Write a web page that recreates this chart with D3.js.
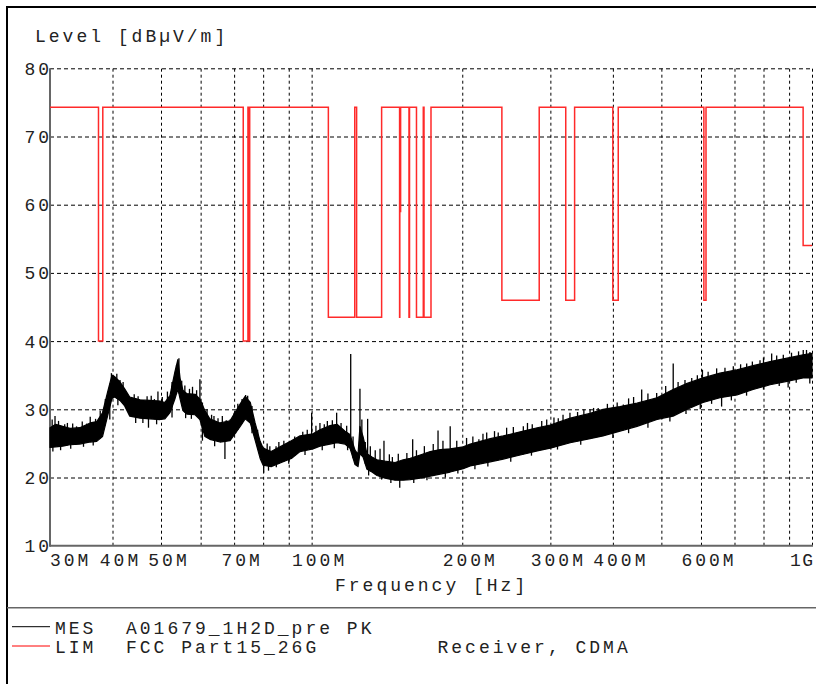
<!DOCTYPE html>
<html><head><meta charset="utf-8">
<script src="https://cdn.jsdelivr.net/npm/d3@7"></script>
<style>
body{margin:0;background:#fff}
text{font-family:"Liberation Mono","Courier New",monospace;font-size:18px;letter-spacing:3px;fill:#222}
</style>
</head><body>
<svg id="c" width="816" height="684"></svg>
<script>
// ---- data ----
const xTickValues = [30, 40, 50, 70, 100, 200, 300, 400, 600, 1000];
const xTickLabels = ["30M", "40M", "50M", "70M", "100M", "200M", "300M", "400M", "600M", "1G"];
const xGridValues = [40, 50, 60, 70, 80, 90, 100, 200, 300, 400, 500, 600, 700, 800, 900, 1000];
const yTickValues = [10, 20, 30, 40, 50, 60, 70, 80];

// limit (LIM): step levels, value holds from freq until next freq (MHz, dBµV/m)
const limitFreq  = [30, 37.5, 38.25, 73, 74.6, 74.8, 75.2, 108, 121.94, 123, 138, 149.9, 150.05, 150.6,
                    156.52475, 156.52525, 156.7, 156.9, 162.0125, 167.17, 167.72, 173.2, 240, 285,
                    322, 335.4, 399.9, 410, 608, 614, 960, 1000];
const limitLevel = [74.3, 40, 74.3, 40, 74.3, 40, 74.3, 43.5, 74.3, 43.5, 74.3, 43.5, 59, 74.3,
                    43.5, 74.3, 43.5, 74.3, 43.5, 74.3, 43.5, 74.3, 46, 74.3,
                    46, 74.3, 46, 74.3, 46, 74.3, 54, 54];

// measurement (MES) peak trace envelope: frequency (MHz), lower and upper level (dBµV/m)
const mesFreq = [30, 30.8, 31.8, 32.9, 34.4, 36.1, 37.2, 38.2, 39.1, 39.9, 40.4, 41.4, 42.3, 43.3, 45.4, 47.5,
                 49.8, 50.9, 52.1, 53.3, 54.05, 54.6, 55.3, 56.3, 58.5, 59.8, 61.2, 62.6, 65.6, 68.7, 72.0,
                 73.65, 75.4, 77.1, 78.9, 80.0, 83.0, 87.0, 91.1, 94.8, 100.6, 103.9, 108.8, 112.4, 116.6,
                 119.3, 122.1, 123.8, 124.9, 126.7, 129.0, 132.0, 135.1, 140.2, 146.8, 152.4, 157.4, 164.8,
                 172.6, 180.7, 189.2, 200.9, 207.5, 217.3, 227.5, 241.5, 261.2, 282.5, 299.8, 328.7, 360.1,
                 382.3, 413.4, 447.1, 490.0, 527.7, 563.0, 605.6, 654.6, 708.0, 762.4, 824.5, 891.5, 959.8, 1000];
const mesLow  = [24.4, 24.5, 24.6, 24.8, 24.9, 25.2, 25.3, 26.0, 29.0, 31.6, 31.8, 31.3, 30.5, 29.0, 28.7, 28.6,
                 28.5, 28.6, 29.5, 31.5, 33.0, 31.5, 29.8, 29.3, 29.2, 28.5, 26.0, 25.6, 25.2, 25.4, 27.5,
                 28.6, 28.0, 25.5, 22.8, 21.8, 21.6, 22.2, 22.8, 23.8, 24.2, 24.6, 24.9, 25.1, 24.9,
                 24.3, 21.9, 21.6, 23.5, 23.0, 21.2, 20.8, 20.3, 19.9, 19.6, 19.6, 19.7, 19.9,
                 20.2, 20.5, 20.8, 21.3, 21.7, 22.0, 22.3, 22.7, 23.3, 23.9, 24.3, 25.1, 25.7,
                 26.1, 26.8, 27.5, 28.5, 29.0, 30.0, 31.0, 31.7, 32.1, 32.9, 33.6, 34.1, 34.6, 34.6];
const mesHigh = [27.3, 27.8, 27.5, 27.2, 27.3, 28.0, 28.2, 29.5, 32.5, 35.0, 34.8, 34.0, 33.0, 31.8, 31.4, 31.3,
                 31.2, 31.0, 32.0, 35.5, 37.3, 34.5, 32.8, 32.3, 32.2, 31.5, 29.8, 28.6, 28.0, 28.3, 30.8,
                 31.9, 31.0, 28.0, 25.3, 24.3, 23.8, 24.6, 25.4, 26.1, 26.4, 27.0, 27.6, 27.8, 26.8,
                 26.3, 24.0, 23.4, 27.5, 26.0, 23.5, 23.0, 22.6, 22.4, 22.2, 22.6, 22.8, 23.3,
                 23.8, 24.1, 24.2, 24.5, 24.9, 25.3, 25.7, 26.1, 26.7, 27.3, 27.7, 28.7, 29.4,
                 30.0, 30.4, 30.9, 31.7, 32.9, 33.8, 34.6, 35.3, 35.8, 36.4, 37.0, 37.5, 38.0, 38.2];
// isolated peaks above the band (MHz, dBµV/m)
const spikeFreq  = [30.7, 32.1, 33.9, 36.1, 39.8, 41.4, 43.3, 46.9, 49.3, 54.3, 59.8, 63.1, 68.7, 73.8, 84.9,
                    89.9, 100.0, 103.9, 112.2, 119.7, 124.9, 129.4, 139.5, 159.2, 178.9, 189.2, 215.9,
                    223.8, 245.3, 264.9, 288.3, 311.1, 328.3, 360.1, 373.8, 400.7, 419.7, 456.7, 489.3,
                    528.0, 557.4, 604.0, 644.8, 696.2, 740.4, 787.2, 830.6, 876.3, 960.5, 990.6,
                    30.3, 31.2, 32.5, 33.3, 34.8, 35.5, 37.0, 37.8, 38.7, 40.1, 40.8, 42.0, 44.2, 45.0,
                    47.8, 48.5, 50.3, 51.5, 52.6, 53.7, 55.0, 55.8, 57.0, 57.8, 58.9, 60.5, 61.8, 63.8,
                    65.0, 66.3, 67.5, 70.0, 71.2, 72.6, 74.5, 76.0, 78.0, 81.5, 82.5, 86.0, 88.0, 92.5,
                    96.0, 98.0, 102.0, 106.0, 107.5, 110.0, 114.5, 117.5, 121.0, 126.0, 128.0, 131.0,
                    134.0, 137.0, 143.0, 145.0, 149.0, 155.0, 162.0, 168.0, 175.0, 183.0, 195.0, 204.0,
                    210.0, 220.0, 232.0, 236.0, 253.0, 270.0, 276.0, 295.0, 305.0, 318.0, 340.0, 350.0,
                    366.0, 390.0, 408.0, 430.0, 440.0, 470.0, 510.0, 540.0, 575.0, 590.0, 620.0, 670.0,
                    720.0, 760.0, 800.0, 850.0, 910.0, 940.0, 975.0];
const spikeLevel = [29.0, 27.8, 27.5, 28.9, 35.3, 34.3, 31.6, 31.9, 32.6, 37.5, 34.4, 29.2, 28.5, 32.1, 24.6,
                    25.1, 29.5, 28.0, 29.5, 38.1, 33.0, 28.6, 25.4, 25.6, 26.9, 27.5, 25.6,
                    26.6, 27.3, 27.5, 28.3, 28.7, 29.5, 30.0, 30.2, 30.2, 30.7, 32.9, 32.4,
                    36.7, 34.3, 35.8, 36.0, 36.3, 36.7, 37.2, 38.2, 38.0, 38.7, 38.4,
                    28.5, 28.3, 28.0, 27.9, 28.2, 27.9, 28.6, 29.8, 31.5, 35.0, 35.2, 34.0, 32.2, 31.9,
                    32.0, 31.5, 31.8, 32.6, 34.0, 36.5, 34.2, 33.5, 33.0, 33.3, 32.8, 31.0, 30.0, 29.0,
                    28.7, 29.0, 28.4, 29.5, 30.8, 31.5, 32.0, 30.5, 27.0, 25.0, 24.6, 25.2, 25.4, 26.0,
                    26.7, 27.0, 27.6, 27.8, 28.3, 28.4, 28.0, 27.6, 26.0, 28.5, 25.2, 24.6,
                    24.0, 24.2, 23.4, 23.0, 23.5, 23.6, 24.0, 24.6, 24.9, 25.4, 25.4, 25.8,
                    26.0, 26.4, 26.8, 26.6, 27.4, 28.0, 27.8, 28.5, 28.8, 29.2, 29.6, 30.0,
                    30.2, 30.8, 31.0, 31.6, 31.8, 32.3, 33.4, 34.0, 34.6, 35.0, 35.5, 36.1,
                    36.6, 37.0, 37.6, 37.9, 38.3, 38.5, 38.7];
// isolated dips below the band
const dipFreq  = [47.2, 67.1, 80.2, 150.0, 598.0, 659.7, 896.0,
                  30.4, 31.5, 33.0, 35.0, 36.6, 39.5, 41.0, 44.5, 46.0, 49.0, 52.6, 56.0, 57.5, 60.5,
                  64.0, 70.5, 76.0, 82.0, 85.0, 90.0, 97.0, 105.0, 111.0, 118.0, 130.0, 138.0, 144.0,
                  160.0, 170.0, 185.0, 196.0, 212.0, 225.0, 250.0, 275.0, 310.0, 345.0, 400.0, 430.0,
                  470.0, 520.0, 560.0, 630.0, 690.0, 740.0, 800.0, 860.0, 930.0, 990.0];
const dipLevel = [27.3, 22.7, 20.7, 18.5, 30.0, 30.4, 33.2,
                  23.8, 24.0, 24.2, 24.5, 24.7, 28.5, 30.6, 28.0, 28.0, 27.8, 28.8, 28.7, 28.6, 25.4,
                  24.6, 26.5, 26.5, 21.0, 21.5, 22.0, 23.3, 24.0, 24.3, 24.0, 20.3, 19.7, 19.2,
                  19.2, 19.6, 20.0, 20.6, 21.2, 21.6, 22.3, 23.2, 24.1, 24.8, 25.8, 26.5,
                  27.3, 28.2, 29.3, 30.8, 31.3, 32.0, 32.9, 33.4, 33.9, 33.8];

const legendRows = [
  {key: "MES", text: "A01679_1H2D_pre PK", color: "#000"},
  {key: "LIM", text: "FCC Part15_26G", color: "#ff0000"}
];

// ---- drawing ----
const svg = d3.select("#c");
const L = 50, R = 812, T = 68.3, B = 545.7;
const x = d3.scaleLog().domain([30, 1000]).range([L, R]);
const y = d3.scaleLinear().domain([10, 80]).range([B, T]);

// outer frame
svg.append("path").attr("d", "M7,690V7H830").attr("fill", "none").attr("stroke", "#000").attr("stroke-width", 2);
svg.append("line").attr("x1", 7).attr("x2", 816).attr("y1", 607.7).attr("y2", 607.7)
  .attr("stroke", "#666").attr("stroke-width", 1.5);

// grid
const gx = svg.append("g").attr("transform", `translate(0,${B})`)
  .call(d3.axisBottom(x).tickValues(xGridValues).tickSize(-(B - T)).tickFormat(""));
gx.select(".domain").remove();
gx.selectAll("line").attr("stroke", "#000").attr("stroke-width", 1).attr("stroke-dasharray", "3,3");

const gy = svg.append("g").attr("transform", `translate(${L},0)`)
  .call(d3.axisLeft(y).tickValues(yTickValues.filter(v => v > 10)).tickSize(-(R - L)).tickFormat(""));
gy.select(".domain").remove();
gy.selectAll("line").attr("stroke", "#000").attr("stroke-width", 1).attr("stroke-dasharray", "4,3");

// axis spines
svg.append("line").attr("x1", L).attr("x2", L).attr("y1", T).attr("y2", B + 1).attr("stroke", "#666").attr("stroke-width", 2);
svg.append("line").attr("x1", L).attr("x2", R + 1).attr("y1", B).attr("y2", B).attr("stroke", "#666").attr("stroke-width", 2);

// y tick labels
svg.append("g").selectAll("text").data(yTickValues).join("text")
  .attr("x", L + 2).attr("y", d => y(d) + 6.5).attr("text-anchor", "end").text(d => d);

// x tick labels
const nX = xTickValues.length;
svg.append("g").selectAll("text").data(xTickValues).join("text")
  .attr("x", (d, i) => i === 0 ? L : (i === nX - 1 ? 790 : x(d) + 8))
  .attr("y", 566)
  .attr("text-anchor", (d, i) => (i === 0 || i === nX - 1) ? "start" : "middle")
  .style("letter-spacing", (d, i) => i === nX - 1 ? "1.5px" : null)
  .text((d, i) => xTickLabels[i]);

svg.append("text").attr("x", 35).attr("y", 42).text("Level [dBµV/m]");
svg.append("text").attr("x", 335).attr("y", 591).text("Frequency [Hz]");

// measurement trace
const mes = mesFreq.map((f, i) => ({f, lo: mesLow[i], hi: mesHigh[i]}));
const plot = svg.append("g");
plot.append("path").datum(mes)
  .attr("d", d3.area().x(d => x(d.f)).y0(d => y(d.lo)).y1(d => y(d.hi)))
  .attr("fill", "#000").attr("stroke", "#000").attr("stroke-width", 1.2).attr("stroke-linejoin", "round");

const bis = d3.bisector(d => d.f).left;
function envAt(f, key) {
  let i = Math.max(1, Math.min(mes.length - 1, bis(mes, f)));
  const a = mes[i - 1], b = mes[i];
  const t = (Math.log(f) - Math.log(a.f)) / (Math.log(b.f) - Math.log(a.f));
  return a[key] + (b[key] - a[key]) * t;
}
plot.selectAll(".spk").data(spikeFreq).join("line").attr("class", "spk")
  .attr("x1", d => x(d)).attr("x2", d => x(d))
  .attr("y1", (d, i) => y(spikeLevel[i])).attr("y2", d => y(envAt(d, "lo")))
  .attr("stroke", "#000").attr("stroke-width", 1.3);
plot.selectAll(".dip").data(dipFreq).join("line").attr("class", "dip")
  .attr("x1", d => x(d)).attr("x2", d => x(d))
  .attr("y1", (d, i) => y(dipLevel[i])).attr("y2", d => y(envAt(d, "hi")))
  .attr("stroke", "#000").attr("stroke-width", 1.3);

// limit line
const lim = limitFreq.map((f, i) => ({f, v: limitLevel[i]}));
svg.append("path").datum(lim)
  .attr("d", d3.line().x(d => x(d.f)).y(d => y(d.v)).curve(d3.curveStepAfter))
  .attr("fill", "none").attr("stroke", "#ff2a2a").attr("stroke-width", 1.5);

// legend
const lg = svg.append("g");
legendRows.forEach((r, i) => {
  const yy = i === 0 ? 626.7 : 646;
  lg.append("line").attr("x1", 12).attr("x2", 50).attr("y1", yy).attr("y2", yy)
    .attr("stroke", r.color).attr("stroke-width", 1);
  lg.append("text").attr("x", 55).attr("y", i === 0 ? 633.5 : 653).text(r.key);
  lg.append("text").attr("x", 126).attr("y", i === 0 ? 633.5 : 653).text(r.text);
});
lg.append("text").attr("x", 437.5).attr("y", 653).text("Receiver, CDMA");
</script>
</body></html>
